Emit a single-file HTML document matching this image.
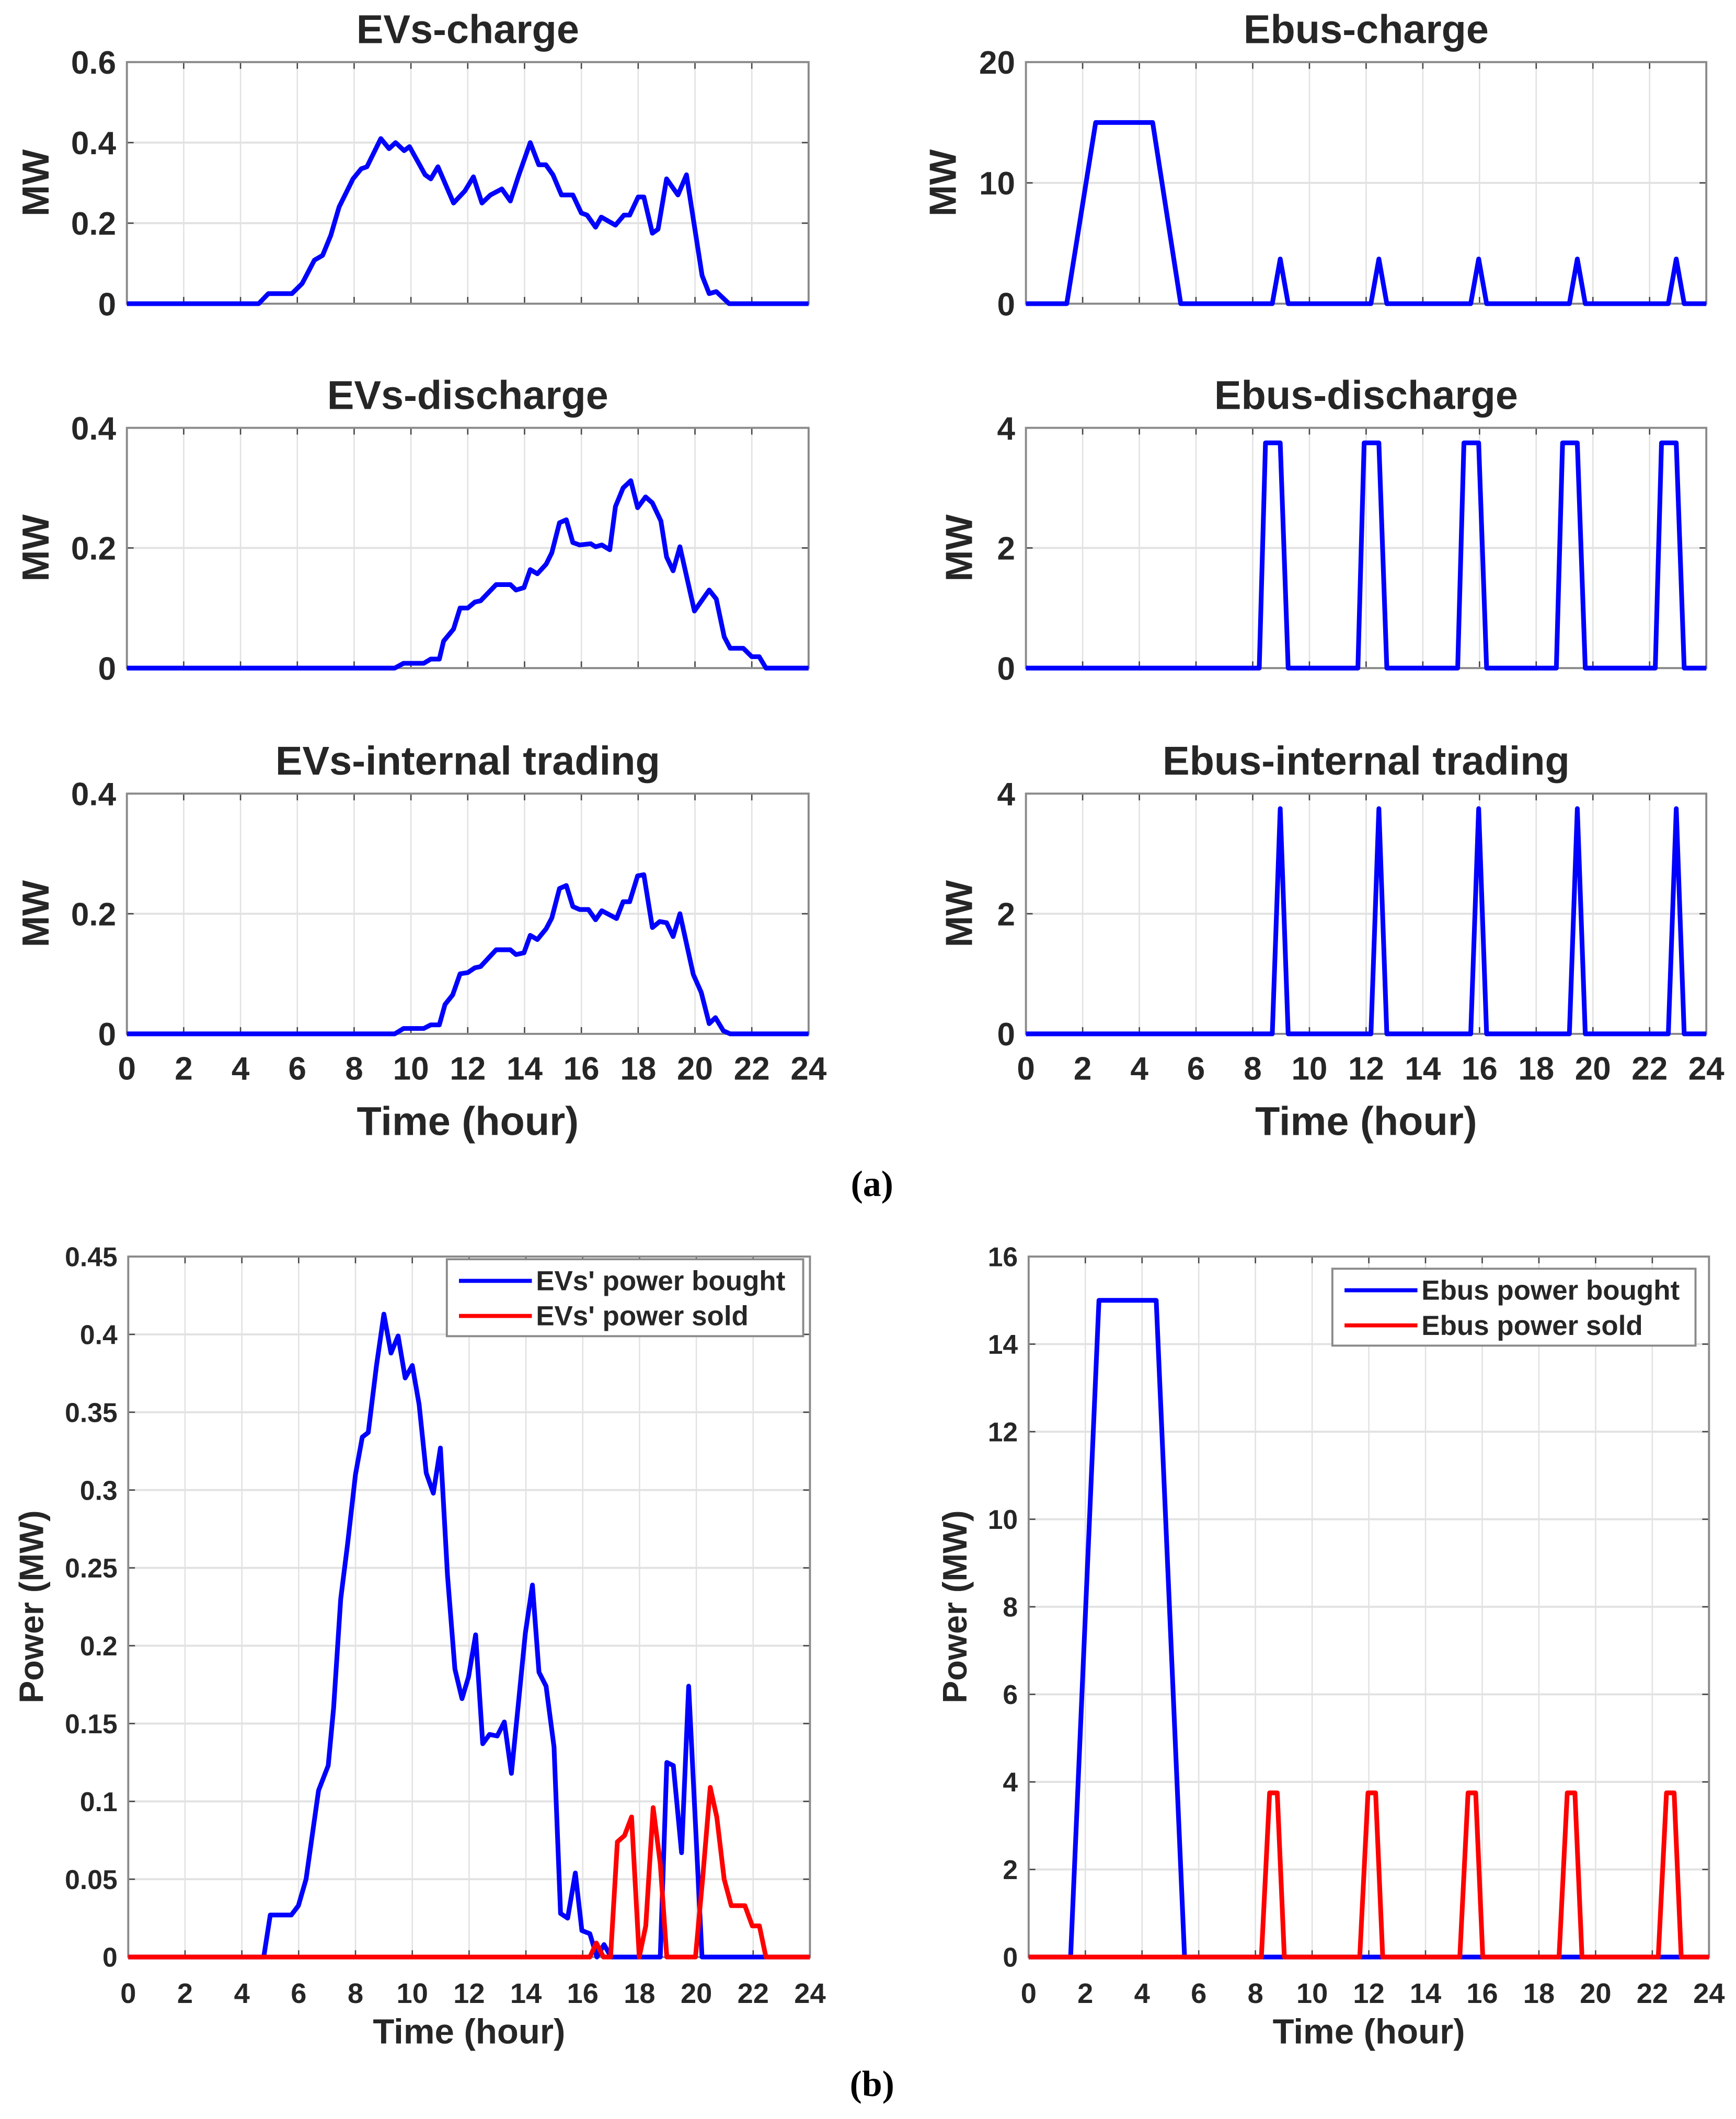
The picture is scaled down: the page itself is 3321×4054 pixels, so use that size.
<!DOCTYPE html>
<html><head><meta charset="utf-8"><style>
html,body{margin:0;padding:0;background:#fff;}
svg{display:block;}
text{font-family:"Liberation Sans",Arial,sans-serif;font-weight:bold;fill:#262626;}
</style></head><body>
<svg id="fig" xmlns="http://www.w3.org/2000/svg" width="3321" height="4054" viewBox="0 0 1286 1570" preserveAspectRatio="none"></svg>
<script>
// ---- data (hours, values) ----
const evChargeT = [0,4.64,4.98,5.81,6.17,6.6,6.89,7.18,7.47,7.96,8.25,8.45,8.94,9.23,9.46,9.76,9.95,10.5,10.7,10.95,11.5,11.9,12.2,12.5,12.8,13.2,13.5,13.8,14.2,14.5,14.75,15.0,15.3,15.7,16.0,16.2,16.5,16.7,17.2,17.5,17.7,18.0,18.2,18.5,18.7,19.0,19.4,19.7,20.25,20.5,20.75,21.2,24];
const evChargeV = [0,0,0.025,0.025,0.05,0.108,0.12,0.17,0.24,0.31,0.335,0.34,0.41,0.385,0.4,0.38,0.39,0.32,0.31,0.34,0.25,0.28,0.315,0.25,0.27,0.285,0.255,0.32,0.40,0.345,0.345,0.32,0.27,0.27,0.225,0.22,0.19,0.215,0.195,0.22,0.22,0.265,0.265,0.175,0.185,0.31,0.27,0.32,0.07,0.025,0.03,0,0];
const evDisT = [0,9.43,9.74,10.45,10.7,11.0,11.15,11.5,11.73,12.0,12.25,12.45,13.0,13.5,13.7,13.98,14.2,14.45,14.76,14.96,15.23,15.47,15.7,15.94,16.33,16.5,16.72,17.0,17.2,17.47,17.74,17.98,18.26,18.5,18.8,19.0,19.23,19.47,19.98,20.5,20.75,21.03,21.24,21.7,22.0,22.26,22.5,24];
const evDisV = [0,0,0.008,0.008,0.015,0.015,0.045,0.065,0.1,0.1,0.11,0.112,0.139,0.139,0.13,0.134,0.164,0.157,0.173,0.192,0.242,0.247,0.209,0.205,0.207,0.202,0.205,0.197,0.269,0.3,0.312,0.267,0.285,0.275,0.245,0.185,0.162,0.202,0.095,0.13,0.115,0.052,0.033,0.033,0.019,0.019,0,0];
const evIntT = [0,9.43,9.74,10.45,10.7,11.0,11.2,11.47,11.73,12.0,12.25,12.45,13.0,13.5,13.7,13.98,14.2,14.45,14.76,14.96,15.23,15.47,15.7,15.94,16.25,16.5,16.72,17.24,17.47,17.7,17.98,18.2,18.5,18.76,19.0,19.23,19.47,19.94,20.22,20.5,20.72,21.0,21.24,24];
const evIntV = [0,0,0.009,0.009,0.015,0.015,0.049,0.065,0.1,0.102,0.11,0.112,0.14,0.14,0.132,0.135,0.164,0.157,0.175,0.193,0.242,0.247,0.212,0.207,0.207,0.19,0.205,0.192,0.22,0.22,0.263,0.265,0.177,0.187,0.185,0.162,0.2,0.099,0.069,0.017,0.027,0.005,0,0];
const busChargeT = [0,1.44,2.46,4.47,5.46,8.69,8.97,9.25,12.17,12.45,12.73,15.69,15.97,16.25,19.17,19.45,19.73,22.66,22.94,23.22,24];
const busChargeV = [0,0,15,15,0,0,3.7,0,0,3.7,0,0,3.7,0,0,3.7,0,0,3.7,0,0];
const busDisT = [0,8.23,8.45,8.97,9.25,11.71,11.93,12.45,12.73,15.23,15.45,15.97,16.25,18.71,18.93,19.45,19.73,22.2,22.42,22.94,23.22,24];
const busDisV = [0,0,3.75,3.75,0,0,3.75,3.75,0,0,3.75,3.75,0,0,3.75,3.75,0,0,3.75,3.75,0,0];
const busIntT = [0,8.69,8.97,9.25,12.17,12.45,12.73,15.69,15.97,16.25,19.17,19.45,19.73,22.66,22.94,23.22,24];
const busIntV = [0,0,3.75,0,0,3.75,0,0,3.75,0,0,3.75,0,0,3.75,0,0];
const evBoughtT = [0,4.77,5.0,5.74,5.99,6.26,6.7,7.04,7.23,7.48,7.72,8.0,8.24,8.45,8.74,9.0,9.25,9.5,9.75,10.0,10.24,10.49,10.74,10.99,11.24,11.5,11.75,11.98,12.23,12.48,12.72,12.99,13.24,13.49,13.72,13.98,14.23,14.46,14.71,14.99,15.22,15.47,15.74,15.97,16.25,16.5,16.75,17.0,18.73,18.96,19.19,19.48,19.73,20.2,24];
const evBoughtV = [0,0,0.027,0.027,0.033,0.05,0.107,0.123,0.16,0.23,0.265,0.31,0.334,0.337,0.38,0.413,0.388,0.399,0.372,0.38,0.355,0.311,0.298,0.327,0.245,0.185,0.166,0.18,0.207,0.137,0.143,0.142,0.151,0.118,0.16,0.208,0.239,0.183,0.174,0.135,0.028,0.025,0.054,0.017,0.015,0,0.008,0,0,0.125,0.123,0.067,0.174,0,0];
const evSoldT = [0,16.25,16.48,16.73,16.98,17.22,17.47,17.72,17.99,18.22,18.48,18.73,18.96,19.97,20.22,20.49,20.72,20.98,21.23,21.71,21.97,22.22,22.45,24];
const evSoldV = [0,0,0.009,0,0,0.074,0.078,0.09,0,0.02,0.096,0.06,0,0,0.05,0.109,0.09,0.05,0.033,0.033,0.02,0.02,0,0];
const busBoughtT = [0,1.48,2.48,4.5,5.5,24];
const busBoughtV = [0,0,15,15,0,0];
const busSoldT = [0,8.21,8.5,8.77,9.02,11.68,11.97,12.24,12.49,15.21,15.5,15.77,16.02,18.71,19.0,19.27,19.52,22.21,22.5,22.77,23.02,24];
const busSoldV = [0,0,3.75,3.75,0,0,3.75,3.75,0,0,3.75,3.75,0,0,3.75,3.75,0,0,3.75,3.75,0,0];
const xTickVals = [0,2,4,6,8,10,12,14,16,18,20,22,24];
const yTicksEvCharge = [0,0.2,0.4,0.6];
const yTicksEv4 = [0,0.2,0.4];
const yTicksBusCharge = [0,10,20];
const yTicksBus4 = [0,2,4];
const yTicksEvPower = [0,0.05,0.1,0.15,0.2,0.25,0.3,0.35,0.4,0.45];
const yTicksBusPower = [0,2,4,6,8,10,12,14,16];

const NS="http://www.w3.org/2000/svg";
const fig=document.getElementById('fig');
function mk(tag,attrs,parent){const e=document.createElementNS(NS,tag);for(const k in attrs)e.setAttribute(k,attrs[k]);(parent||fig).appendChild(e);return e;}
function txt(s,attrs,parent){const e=mk('text',attrs,parent);e.textContent=s;return e;}

function panel(o){
  const g=mk('g',{});
  
  
  const xs=h=>o.x0+(o.x1-o.x0)*h/24;
  const ys=v=>o.y1-(o.y1-o.y0)*(v-o.yt[0])/(o.yt[o.yt.length-1]-o.yt[0]);
  mk('rect',{x:o.x0,y:o.y0,width:o.x1-o.x0,height:o.y1-o.y0,fill:'#fff'},g);
  xTickVals.forEach(h=>{
    const l=mk('line',{x1:xs(h),x2:xs(h),y1:o.y0,y2:o.y1,stroke:'#e2e2e2','stroke-width':1},g);
    
    
    mk('line',{x1:xs(h),x2:xs(h),y1:o.y1,y2:o.y1-5,stroke:'#444','stroke-width':1},g);
    mk('line',{x1:xs(h),x2:xs(h),y1:o.y0,y2:o.y0+5,stroke:'#444','stroke-width':1},g);
    if(o.xlab){const t=txt(String(h),{x:xs(h),y:o.y1+34,'text-anchor':'middle','font-size':o.xfs},g);
      
      }
  });
  o.yt.forEach(v=>{
    const l=mk('line',{x1:o.x0,x2:o.x1,y1:ys(v),y2:ys(v),stroke:'#e2e2e2','stroke-width':1.5},g);
    
    
    mk('line',{x1:o.x0,x2:o.x0+5,y1:ys(v),y2:ys(v),stroke:'#444'},g);
    mk('line',{x1:o.x1,x2:o.x1-5,y1:ys(v),y2:ys(v),stroke:'#444'},g);
    const t=txt(String(v),{x:o.x0-8,y:ys(v)+o.fs*0.36,'text-anchor':'end','font-size':o.fs},g);
    
    
  });
  mk('rect',{x:o.x0,y:o.y0,width:o.x1-o.x0,height:o.y1-o.y0,fill:'none',stroke:'#8a8a8a','stroke-width':1.5},g);
  o.series.forEach(s=>{
    const d=s.t.map((h,i)=>(i?'L':'M')+xs(h).toFixed(2)+' '+ys(s.v[i]).toFixed(2)).join(' ');
    const p=mk('path',{d:d,fill:'none',stroke:s.c,'stroke-width':3.5,'stroke-linejoin':'round'},g);
    
    
  });
  if(o.title){const t=txt(o.title,{x:(o.x0+o.x1)/2,y:o.y0-14,'text-anchor':'middle','font-size':30},g);
    
    }
  const yl=txt(o.ylab,{x:0,y:0,'text-anchor':'middle','font-size':o.ylfs,transform:'translate('+o.ylx+','+((o.y0+o.y1)/2)+') rotate(-90)'},g);
  
  
  if(o.xlab){const t=txt('Time (hour)',{x:(o.x0+o.x1)/2,y:o.y1+o.xly,'text-anchor':'middle','font-size':o.xtfs},g);
    
    }
  return g;
}
const L=[94,599], R=[760,1264];
const rows=[[46,225],[317,495],[588,766]];
panel({name:'evs-charge-panel',x0:L[0],x1:L[1],y0:rows[0][0],y1:rows[0][1],yt:yTicksEvCharge,fs:24,xfs:24,title:'EVs-charge',ylab:'MW',ylx:36,ylfs:28,series:[{t:evChargeT,v:evChargeV,c:'#0000ff',n:'evs-charge-line'}]});
panel({name:'evs-discharge-panel',x0:L[0],x1:L[1],y0:rows[1][0],y1:rows[1][1],yt:yTicksEv4,fs:24,xfs:24,title:'EVs-discharge',ylab:'MW',ylx:36,ylfs:28,series:[{t:evDisT,v:evDisV,c:'#0000ff',n:'evs-discharge-line'}]});
panel({name:'evs-internal-panel',x0:L[0],x1:L[1],y0:rows[2][0],y1:rows[2][1],yt:yTicksEv4,fs:24,xfs:24,xtfs:30,title:'EVs-internal trading',ylab:'MW',ylx:36,ylfs:28,xlab:true,xly:75,series:[{t:evIntT,v:evIntV,c:'#0000ff',n:'evs-internal-line'}]});
panel({name:'ebus-charge-panel',x0:R[0],x1:R[1],y0:rows[0][0],y1:rows[0][1],yt:yTicksBusCharge,fs:24,xfs:24,title:'Ebus-charge',ylab:'MW',ylx:708,ylfs:28,series:[{t:busChargeT,v:busChargeV,c:'#0000ff',n:'ebus-charge-line'}]});
panel({name:'ebus-discharge-panel',x0:R[0],x1:R[1],y0:rows[1][0],y1:rows[1][1],yt:yTicksBus4,fs:24,xfs:24,title:'Ebus-discharge',ylab:'MW',ylx:720,ylfs:28,series:[{t:busDisT,v:busDisV,c:'#0000ff',n:'ebus-discharge-line'}]});
panel({name:'ebus-internal-panel',x0:R[0],x1:R[1],y0:rows[2][0],y1:rows[2][1],yt:yTicksBus4,fs:24,xfs:24,xtfs:30,title:'Ebus-internal trading',ylab:'MW',ylx:720,ylfs:28,xlab:true,xly:75,series:[{t:busIntT,v:busIntV,c:'#0000ff',n:'ebus-internal-line'}]});
panel({name:'evs-power-panel',x0:95,x1:600,y0:931,y1:1450,yt:yTicksEvPower,fs:20,xfs:21,xtfs:26,ylab:'Power (MW)',ylx:32,ylfs:25,xlab:true,xly:64,series:[{t:evBoughtT,v:evBoughtV,c:'#0000ff',n:'evs-power-bought-line'},{t:evSoldT,v:evSoldV,c:'#ff0000',n:'evs-power-sold-line'}]});
panel({name:'ebus-power-panel',x0:762,x1:1266,y0:931,y1:1450,yt:yTicksBusPower,fs:20,xfs:21,xtfs:26,ylab:'Power (MW)',ylx:716,ylfs:25,xlab:true,xly:64,series:[{t:busBoughtT,v:busBoughtV,c:'#0000ff',n:'ebus-power-bought-line'},{t:busSoldT,v:busSoldV,c:'#ff0000',n:'ebus-power-sold-line'}]});

function legend(name,x,y,w,h,items){
  const g=mk('g',{});
  
  
  mk('rect',{x:x,y:y,width:w,height:h,fill:'#fff',stroke:'#8a8a8a','stroke-width':1.5},g);
  items.forEach((it,i)=>{
    const cy=y+16+i*26;
    const e=mk('g',{},g);
    
    
    mk('line',{x1:x+9,x2:x+63,y1:cy,y2:cy,stroke:it.c,'stroke-width':3},e);
    txt(it.s,{x:x+66,y:cy+7,'font-size':20.5},e);
  });
}
legend('evs-legend',331,933,264,57,[{c:'#0000ff',s:"EVs' power bought"},{c:'#ff0000',s:"EVs' power sold"}]);
legend('ebus-legend',987,940,269,57,[{c:'#0000ff',s:'Ebus power bought'},{c:'#ff0000',s:'Ebus power sold'}]);

const a=txt('(a)',{x:646,y:886,'text-anchor':'middle','font-size':27,style:'font-family:"Liberation Serif",serif;font-weight:bold;fill:#000'});


const b=txt('(b)',{x:646,y:1553,'text-anchor':'middle','font-size':27,style:'font-family:"Liberation Serif",serif;font-weight:bold;fill:#000'});


</script>
</body></html>
